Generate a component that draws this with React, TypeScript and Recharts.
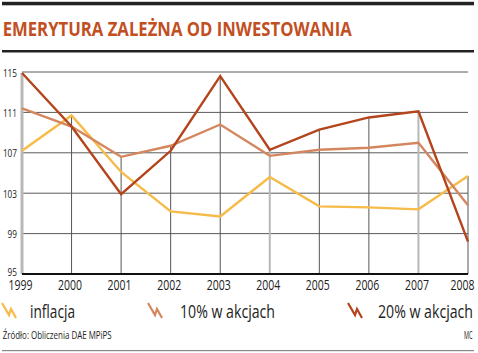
import { LineChart, Line, XAxis, YAxis, CartesianGrid, ReferenceLine } from "recharts";

const years = ["1999", "2000", "2001", "2002", "2003", "2004", "2005", "2006", "2007", "2008"];
const inflacja = [107.2, 110.7, 105.1, 101.2, 100.7, 104.6, 101.7, 101.6, 101.4, 104.7];
const akcje10 = [111.4, 109.6, 106.6, 107.7, 109.8, 106.7, 107.3, 107.5, 108.0, 101.8];
const akcje20 = [114.9, 109.6, 102.9, 107.2, 114.6, 107.3, 109.3, 110.5, 111.1, 98.2];
const yTicks = [95, 99, 103, 107, 111, 115];
const lightYears = ["1999", "2004", "2007"];

const COLORS = { inflacja: "#f6bb48", akcje10: "#d4875f", akcje20: "#b3441c" };
const FONT = "'Open Sans', 'DejaVu Sans', sans-serif";

const data = years.map((year, i) => ({
  year,
  inflacja: inflacja[i],
  akcje10: akcje10[i],
  akcje20: akcje20[i],
}));

// the original uses a condensed face, so texts are squeezed to the widths seen in the picture
const YTick = ({ y, payload }: any) => {
  const label = String(payload.value);
  return (
    <text x={17} y={y + (payload.value === 95 ? -3 : 0)} textAnchor="end" dominantBaseline="central"
      fontFamily={FONT} fontSize={11.5} fill="#222" textLength={label.length * 4.7} lengthAdjust="spacingAndGlyphs">
      {label}
    </text>
  );
};

const XTick = ({ x, y, payload, index }: any) => (
  <text x={index === years.length - 1 ? x - 5.5 : x - 1.5} y={y + 8} textAnchor="middle"
    fontFamily={FONT} fontSize={14} fill="#222" textLength={24} lengthAdjust="spacingAndGlyphs">
    {payload.value}
  </text>
);

const legendItems = [
  { label: "inflacja", color: COLORS.inflacja, icon: 2, text: 30, width: 45 },
  { label: "10% w akcjach", color: COLORS.akcje10, icon: 148, text: 180, width: 95 },
  { label: "20% w akcjach", color: COLORS.akcje20, icon: 348, text: 378, width: 95 },
];

export default function App() {
  return (
    <div style={{ position: "fixed", left: 0, top: 0, width: 478, height: 353, background: "#fff", overflow: "hidden" }}>
      <div style={{ position: "absolute", left: 0, top: 0 }}>
        <LineChart width={478} height={300} data={data} margin={{ top: 72, right: 10, bottom: 0, left: 0 }}>
          <CartesianGrid vertical={false} stroke="#5a5a5a" strokeWidth={1} />
          <XAxis dataKey="year" height={26} tickLine={false} axisLine={{ stroke: "#111", strokeWidth: 2 }} tick={<XTick />} interval={0} />
          <YAxis width={22} domain={[95, 115]} ticks={yTicks} tickLine={false} axisLine={false} tick={<YTick />} />
          {data.map((d) => {
            const top = Math.max(d.inflacja, d.akcje10, d.akcje20);
            const light = lightYears.includes(d.year);
            return (
              <ReferenceLine
                key={d.year}
                segment={[{ x: d.year, y: top }, { x: d.year, y: 95 }]}
                stroke={light ? "#b8b8b8" : "#555"}
                strokeWidth={d.year === "1999" ? 3 : light ? 2 : 1}
              />
            );
          })}
          <Line type="linear" dataKey="inflacja" stroke={COLORS.inflacja} strokeWidth={2.4} dot={false} isAnimationActive={false} />
          <Line type="linear" dataKey="akcje10" stroke={COLORS.akcje10} strokeWidth={2.4} dot={false} isAnimationActive={false} />
          <Line type="linear" dataKey="akcje20" stroke={COLORS.akcje20} strokeWidth={2.4} dot={false} isAnimationActive={false} />
        </LineChart>
      </div>

      <svg width={478} height={353} style={{ position: "absolute", left: 0, top: 0, pointerEvents: "none" }}>
        <rect x={2} y={1.8} width={472} height={3.5} fill="#222" />
        <text x={2.7} y={36} fontFamily={FONT} fontWeight={700} fontSize={20} fill="#c24f1f"
          textLength={349} lengthAdjust="spacingAndGlyphs">
          EMERYTURA ZALEŻNA OD INWESTOWANIA
        </text>
        <rect x={2} y={50} width={472} height={2.5} fill="#222" />

        {legendItems.map((item) => (
          <g key={item.label}>
            <polyline
              points={`${item.icon},303 ${item.icon + 7},315 ${item.icon + 9},309 ${item.icon + 14},318`}
              fill="none" stroke={item.color} strokeWidth={2.2}
            />
            <text x={item.text} y={318} fontFamily={FONT} fontSize={18} fill="#222"
              textLength={item.width} lengthAdjust="spacingAndGlyphs">
              {item.label}
            </text>
          </g>
        ))}

        <text x={2.7} y={339} fontFamily={FONT} fontSize={10} fill="#222" textLength={109} lengthAdjust="spacingAndGlyphs">
          Źródło: Obliczenia DAE MPiPS
        </text>
        <text x={464} y={339} fontFamily={FONT} fontSize={10} fill="#222" textLength={8.5} lengthAdjust="spacingAndGlyphs">
          MC
        </text>
        <rect x={2} y={350} width={472} height={1.2} fill="#888" />
      </svg>
    </div>
  );
}
